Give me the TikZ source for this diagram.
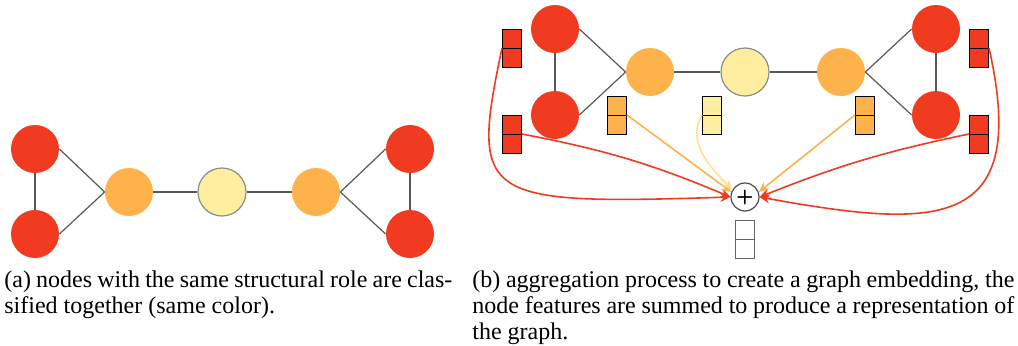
\documentclass[tikz,border=0pt]{standalone}
\usepackage{fontspec}
\setmainfont{Liberation Serif}
\usetikzlibrary{arrows.meta}

\definecolor{rolered}{HTML}{F03B20}
\definecolor{roleorange}{HTML}{FEB24C}
\definecolor{roleyellow}{HTML}{FFEDA0}

\begin{document}
\begin{tikzpicture}[x=0.5pt, y=-0.5pt, >={Stealth[length=5pt,width=4.5pt]},
    vtx/.style={circle, minimum size=24pt, inner sep=0pt},
    edge/.style={draw=black!65, line width=0.6pt},
    feat/.style={draw=black, line width=0.5pt, minimum width=9.5pt, minimum height=19pt, inner sep=0pt,
        path picture={\draw[line width=0.5pt] (path picture bounding box.west) -- (path picture bounding box.east);}},
    flow/.style={->, line width=0.8pt},
    caption/.style={anchor=north west, inner sep=0pt, align=justify, font=\fontsize{12}{13}\selectfont}]
    \useasboundingbox (0,0) rectangle (1018,345);

    % --- (a) graph with structural roles ---
    \node[vtx, fill=rolered] (ra1) at (35,149) {};
    \node[vtx, fill=rolered] (ra2) at (35,234) {};
    \node[vtx, fill=roleorange] (oa1) at (129,192) {};
    \node[vtx, fill=roleyellow, draw=black!45, line width=0.6pt] (ya) at (222,192) {};
    \node[vtx, fill=roleorange] (oa2) at (316,192) {};
    \node[vtx, fill=rolered] (ra3) at (410,149) {};
    \node[vtx, fill=rolered] (ra4) at (410,234) {};

    \draw[edge] (ra1) -- (ra2);
    \draw[edge] (ra1.east) -- (oa1.west);
    \draw[edge] (ra2.east) -- (oa1.west);
    \draw[edge] (oa1) -- (ya);
    \draw[edge] (ya) -- (oa2);
    \draw[edge] (oa2.east) -- (ra3.west);
    \draw[edge] (oa2.east) -- (ra4.west);
    \draw[edge] (ra3) -- (ra4);

    % --- (b) same graph, node features ---
    \node[vtx, fill=rolered] (rb1) at (555,29) {};
    \node[vtx, fill=rolered] (rb2) at (555,115) {};
    \node[vtx, fill=roleorange] (ob1) at (650,72) {};
    \node[vtx, fill=roleyellow, draw=black!45, line width=0.6pt] (yb) at (745,72) {};
    \node[vtx, fill=roleorange] (ob2) at (841,72) {};
    \node[vtx, fill=rolered] (rb3) at (936,29) {};
    \node[vtx, fill=rolered] (rb4) at (936,115) {};

    \draw[edge] (rb1) -- (rb2);
    \draw[edge] (rb1.east) -- (ob1.west);
    \draw[edge] (rb2.east) -- (ob1.west);
    \draw[edge] (ob1) -- (yb);
    \draw[edge] (yb) -- (ob2);
    \draw[edge] (ob2.east) -- (rb3.west);
    \draw[edge] (ob2.east) -- (rb4.west);
    \draw[edge] (rb3) -- (rb4);

    % feature vectors
    \node[feat, fill=rolered] (fr1) at (512,48) {};
    \node[feat, fill=rolered] (fr2) at (512,134) {};
    \node[feat, fill=roleorange] (fo1) at (617,115) {};
    \node[feat, fill=roleyellow] (fy) at (712,115) {};
    \node[feat, fill=roleorange] (fo2) at (865,115) {};
    \node[feat, fill=rolered] (fr3) at (979,48) {};
    \node[feat, fill=rolered] (fr4) at (979,134) {};

    % sum and graph embedding
    \node[circle, draw=black!70, line width=0.6pt, fill=white, minimum size=14pt, inner sep=0pt, font=\sffamily\bfseries] (sum) at (745,197) {+};
    \node[feat, draw=black!60, fill=white] (emb) at (745,239) {};

    % --- aggregation arrows ---
    \draw[flow, rolered] (fr1.west) .. controls (470,200) and (480,205) .. (sum.west);
    \draw[flow, rolered] (fr2.east) to[bend left=6] (sum.west);
    \draw[flow, roleorange] (fo1.east) -- (sum.160);
    \draw[flow, roleyellow!80!roleorange] (fy.west) to[out=240, in=135] (sum.150);
    \draw[flow, roleorange] (fo2.west) -- (sum.20);
    \draw[flow, rolered] (fr4.west) to[bend right=5] (sum.east);
    \draw[flow, rolered] (fr3.east) .. controls (1030,230) and (940,230) .. (sum.east);

    % --- captions ---
    \node[caption, text width=224pt] (capa) at (4,270)
        {(a) nodes with the same structural role are clas-\linebreak sified together (same color).};
    \node[caption, text width=271pt] (capb) at (472,270)
        {(b) aggregation process to create a graph embedding, the\linebreak node features are summed to produce a representation of\linebreak the graph.};
\end{tikzpicture}
\end{document}
